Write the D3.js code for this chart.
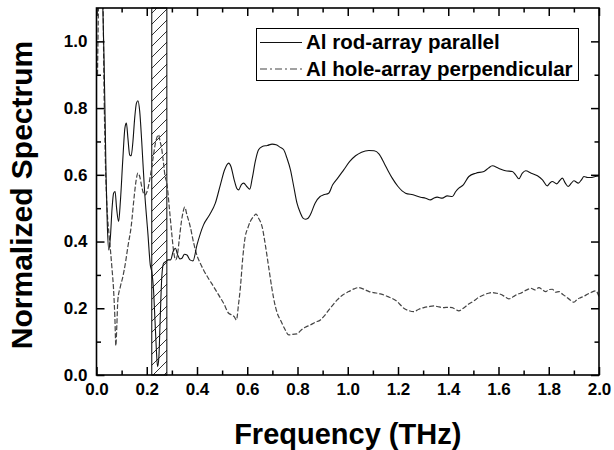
<!DOCTYPE html>
<html><head><meta charset="utf-8">
<script src="https://cdn.jsdelivr.net/npm/d3@7"></script>
<style>
body{margin:0;background:#fff}
text{font-family:"Liberation Sans",Arial,sans-serif;font-weight:bold;fill:#000}
</style>
</head><body><svg id="c" width="614" height="450"></svg>
<script>
// ---- data ----
const rodFreq = [0.022,0.03,0.034,0.038,0.043,0.049,0.055,0.062,0.068,0.074,0.08,0.088,0.095,0.105,0.113,0.119,0.125,0.132,0.138,0.145,0.152,0.159,0.165,0.172,0.18,0.191,0.205,0.214,0.22,0.227,0.233,0.238,0.243,0.248,0.254,0.26,0.267,0.276,0.285,0.295,0.305,0.314,0.323,0.332,0.34,0.35,0.36,0.372,0.384,0.4,0.426,0.45,0.473,0.493,0.51,0.526,0.535,0.548,0.558,0.566,0.576,0.586,0.598,0.61,0.62,0.632,0.645,0.66,0.68,0.699,0.715,0.73,0.745,0.758,0.772,0.785,0.798,0.812,0.822,0.831,0.842,0.851,0.87,0.89,0.904,0.924,0.94,0.96,0.984,1.008,1.031,1.055,1.084,1.105,1.124,1.145,1.162,1.177,1.2,1.23,1.26,1.29,1.31,1.329,1.342,1.356,1.376,1.396,1.416,1.43,1.442,1.46,1.482,1.51,1.542,1.56,1.575,1.6,1.628,1.655,1.668,1.681,1.695,1.708,1.73,1.755,1.775,1.794,1.804,1.814,1.832,1.844,1.854,1.866,1.877,1.89,1.9,1.918,1.93,1.94,1.955,1.967,1.985,2.0];
const rodVal  = [1.2,0.95,0.78,0.6,0.45,0.375,0.41,0.5,0.545,0.55,0.5,0.46,0.52,0.65,0.74,0.755,0.71,0.66,0.657,0.7,0.77,0.815,0.822,0.79,0.7,0.555,0.42,0.33,0.31,0.255,0.16,0.08,0.025,0.05,0.18,0.295,0.335,0.34,0.345,0.345,0.37,0.38,0.36,0.348,0.35,0.362,0.36,0.345,0.342,0.39,0.45,0.48,0.515,0.57,0.615,0.635,0.625,0.585,0.56,0.555,0.57,0.575,0.565,0.557,0.59,0.64,0.675,0.685,0.688,0.692,0.69,0.683,0.675,0.65,0.615,0.565,0.515,0.485,0.47,0.467,0.47,0.48,0.515,0.535,0.54,0.545,0.57,0.59,0.615,0.64,0.657,0.668,0.673,0.672,0.663,0.635,0.61,0.59,0.565,0.545,0.54,0.533,0.53,0.525,0.53,0.533,0.53,0.537,0.535,0.55,0.56,0.57,0.595,0.605,0.61,0.62,0.627,0.62,0.612,0.61,0.6,0.588,0.605,0.612,0.605,0.597,0.585,0.567,0.575,0.58,0.573,0.583,0.59,0.575,0.565,0.575,0.582,0.575,0.585,0.595,0.592,0.592,0.595,0.597];
const holeFreq = [0.004,0.012,0.024,0.03,0.036,0.042,0.05,0.056,0.061,0.068,0.073,0.077,0.081,0.085,0.095,0.105,0.115,0.125,0.138,0.15,0.158,0.165,0.172,0.18,0.187,0.194,0.205,0.214,0.225,0.236,0.247,0.253,0.258,0.266,0.273,0.28,0.29,0.3,0.308,0.315,0.322,0.33,0.338,0.345,0.351,0.36,0.373,0.387,0.4,0.413,0.426,0.445,0.466,0.486,0.506,0.526,0.539,0.548,0.557,0.565,0.573,0.582,0.592,0.602,0.612,0.625,0.635,0.645,0.659,0.672,0.685,0.698,0.712,0.722,0.732,0.748,0.765,0.78,0.798,0.815,0.831,0.851,0.871,0.891,0.904,0.93,0.958,0.98,1.004,1.025,1.044,1.07,1.085,1.104,1.13,1.16,1.197,1.223,1.243,1.263,1.283,1.303,1.323,1.343,1.363,1.382,1.4,1.416,1.43,1.442,1.46,1.48,1.502,1.52,1.542,1.56,1.575,1.592,1.608,1.625,1.641,1.66,1.675,1.688,1.7,1.715,1.728,1.745,1.761,1.775,1.788,1.8,1.814,1.828,1.841,1.855,1.868,1.885,1.9,1.915,1.927,1.94,1.954,1.97,1.987,2.0];
const holeVal  = [0.9,1.2,1.2,0.85,0.62,0.5,0.42,0.37,0.325,0.255,0.175,0.088,0.15,0.225,0.265,0.295,0.335,0.385,0.445,0.535,0.585,0.605,0.595,0.565,0.545,0.54,0.56,0.595,0.65,0.7,0.72,0.7,0.685,0.64,0.595,0.575,0.5,0.42,0.365,0.345,0.36,0.41,0.46,0.49,0.503,0.48,0.445,0.395,0.358,0.335,0.315,0.29,0.265,0.24,0.215,0.185,0.18,0.175,0.165,0.21,0.265,0.35,0.415,0.44,0.46,0.475,0.482,0.47,0.445,0.39,0.325,0.26,0.205,0.18,0.165,0.14,0.12,0.122,0.123,0.135,0.143,0.15,0.158,0.165,0.175,0.2,0.225,0.24,0.25,0.258,0.262,0.255,0.25,0.247,0.243,0.235,0.22,0.2,0.193,0.19,0.197,0.202,0.205,0.207,0.204,0.202,0.203,0.202,0.196,0.192,0.2,0.212,0.222,0.232,0.24,0.245,0.247,0.245,0.242,0.235,0.228,0.235,0.242,0.245,0.25,0.256,0.26,0.255,0.262,0.255,0.25,0.256,0.257,0.248,0.25,0.242,0.235,0.225,0.218,0.228,0.232,0.236,0.242,0.248,0.252,0.235];
const xMajorTicks = [0,0.2,0.4,0.6,0.8,1.0,1.2,1.4,1.6,1.8,2.0];
const xMinorTicks = [0.1,0.3,0.5,0.7,0.9,1.1,1.3,1.5,1.7,1.9];
const yMajorTicks = [0,0.2,0.4,0.6,0.8,1.0];
const yMinorTicks = [0.1,0.3,0.5,0.7,0.9];
const bandRange = [0.22,0.28];
const legendLabels = ["Al rod-array parallel","Al hole-array perpendicular"];
const xTitle = "Frequency (THz)";
const yTitle = "Normalized Spectrum";

// ---- layout ----
const L=96.5, R=599, T=8, B=375;
const svg = d3.select("#c");
const x = d3.scaleLinear().domain([0,2]).range([L,R]);
const y = d3.scaleLinear().domain([0,1.1]).range([B,T]);

const defs = svg.append("defs");
defs.append("clipPath").attr("id","clip").append("rect")
  .attr("x",L).attr("y",T).attr("width",R-L).attr("height",B-T);
const pat = defs.append("pattern").attr("id","hatch").attr("patternUnits","userSpaceOnUse")
  .attr("width",11).attr("height",11);
pat.append("path").attr("d","M-3,3 L3,-3 M0,11 L11,0 M8,14 L14,8")
  .attr("stroke","#000").attr("stroke-width",0.8);

// hatched band
svg.append("rect")
  .attr("x",x(bandRange[0])).attr("y",T)
  .attr("width",x(bandRange[1])-x(bandRange[0])).attr("height",B-T)
  .attr("fill","url(#hatch)").attr("stroke","#000").attr("stroke-width",1);

// curves
const rod = rodFreq.map((f,i)=>[f,rodVal[i]]);
const hole = holeFreq.map((f,i)=>[f,holeVal[i]]);
const line = d3.line().x(d=>x(d[0])).y(d=>y(d[1])).curve(d3.curveMonotoneX);
const plot = svg.append("g").attr("clip-path","url(#clip)");
plot.append("path").datum(hole).attr("d",line).attr("fill","none")
  .attr("stroke","#444").attr("stroke-width",1.2).attr("stroke-dasharray","5,2");
plot.append("path").datum(rod).attr("d",line).attr("fill","none")
  .attr("stroke","#111").attr("stroke-width",1.1);

// axes
const fmt = d3.format(".1f");
function style(g){ g.select(".domain").remove(); g.selectAll("line").attr("stroke","#000").attr("stroke-width",1.5);
  g.selectAll("text").attr("font-size",17).style("font-family",'"Liberation Sans",Arial,sans-serif').style("font-weight","bold"); }
svg.append("g").attr("transform",`translate(0,${B})`)
  .call(d3.axisBottom(x).tickValues(xMajorTicks).tickFormat(fmt).tickSize(-8).tickPadding(8)).call(style);
svg.append("g").attr("transform",`translate(0,${B})`)
  .call(d3.axisBottom(x).tickValues(xMinorTicks).tickFormat("").tickSize(-4.5)).call(style);
svg.append("g").attr("transform",`translate(0,${T})`)
  .call(d3.axisTop(x).tickValues(xMajorTicks).tickFormat("").tickSize(-8)).call(style);
svg.append("g").attr("transform",`translate(0,${T})`)
  .call(d3.axisTop(x).tickValues(xMinorTicks).tickFormat("").tickSize(-4.5)).call(style);
svg.append("g").attr("transform",`translate(${L},0)`)
  .call(d3.axisLeft(y).tickValues(yMajorTicks).tickFormat(fmt).tickSize(-8).tickPadding(9)).call(style);
svg.append("g").attr("transform",`translate(${L},0)`)
  .call(d3.axisLeft(y).tickValues(yMinorTicks).tickFormat("").tickSize(-4.5)).call(style);
svg.append("g").attr("transform",`translate(${R},0)`)
  .call(d3.axisRight(y).tickValues(yMajorTicks).tickFormat("").tickSize(-8)).call(style);
svg.append("g").attr("transform",`translate(${R},0)`)
  .call(d3.axisRight(y).tickValues(yMinorTicks).tickFormat("").tickSize(-4.5)).call(style);

// frame
svg.append("rect").attr("x",L).attr("y",T).attr("width",R-L).attr("height",B-T)
  .attr("fill","none").attr("stroke","#000").attr("stroke-width",1.6);

// legend
const lg = svg.append("g");
lg.append("rect").attr("x",256.5).attr("y",28.5).attr("width",322).attr("height",52)
  .attr("fill","#fff").attr("stroke","#000").attr("stroke-width",1);
const lgY=[42.5,69];
lg.append("line").attr("x1",260).attr("x2",302).attr("y1",lgY[0]).attr("y2",lgY[0]).attr("stroke","#111").attr("stroke-width",1.1);
lg.append("line").attr("x1",260).attr("x2",302).attr("y1",lgY[1]).attr("y2",lgY[1]).attr("stroke","#444").attr("stroke-width",1.2).attr("stroke-dasharray","7,3,2,3");
legendLabels.forEach((t,i)=>{
  lg.append("text").attr("x",306).attr("y",lgY[i]+6.5).attr("font-size",20.5).text(t);
});

// titles
svg.append("text").attr("x",(L+R)/2).attr("y",444).attr("text-anchor","middle").attr("font-size",29).text(xTitle);
svg.append("text").attr("transform",`translate(32,195) rotate(-90)`).attr("text-anchor","middle").attr("font-size",30).text(yTitle);
</script>
</body></html>
